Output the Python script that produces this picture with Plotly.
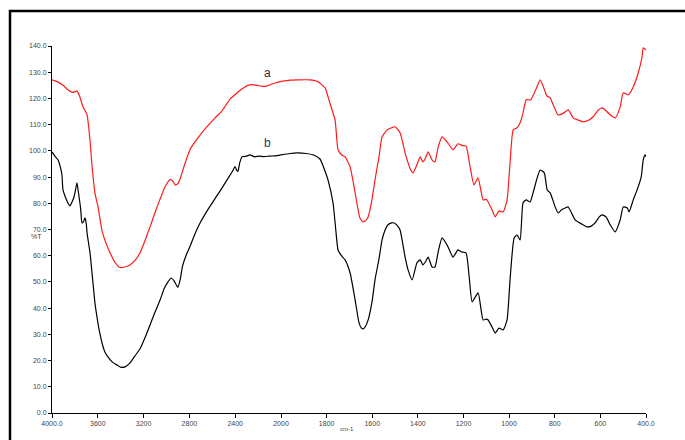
import plotly.graph_objects as go

# wavenumber (cm-1) and %T readings
red_wn = [4000, 3950, 3904, 3860, 3825, 3795, 3782, 3760, 3729, 3694, 3668, 3651, 3625, 3598, 3563, 3530, 3493, 3450, 3406, 3360, 3319, 3270, 3231, 3190, 3144, 3100, 3057, 3010, 2969, 2945, 2925, 2900, 2880, 2840, 2795, 2750, 2707, 2640, 2576, 2520, 2480, 2440, 2402, 2360, 2314, 2290, 2250, 2200, 2160, 2120, 2080, 2040, 2000,
          1960, 1930, 1873, 1840, 1807, 1785, 1763, 1750, 1735, 1719, 1697, 1675, 1654, 1640, 1625, 1618, 1600, 1588, 1570, 1557, 1535, 1515, 1500, 1478, 1456, 1443, 1430, 1421, 1404, 1390, 1378, 1368, 1355, 1338, 1325, 1311, 1294, 1272, 1246, 1224, 1205, 1189, 1171, 1154, 1136, 1114, 1100, 1092, 1075, 1061, 1044, 1026, 1009, 996, 982, 965, 952, 940, 925, 905, 880, 864, 846, 835, 820, 807, 785, 760, 741, 719, 700, 675, 650, 632, 610, 592, 579, 560, 535, 513, 500, 478, 456, 434, 417, 412, 400]
red_t = [127.1, 126.3, 125.0, 123.3, 122.3, 122.6, 122.9, 121.0, 116.8, 113.7, 104.0, 94.5, 84.0, 78.6, 69.5, 65.0, 61.1, 57.5, 55.5, 55.8, 56.5, 58.5, 61.1, 65.5, 71.0, 76.5, 81.5, 86.5, 89.0, 88.5, 87.0, 87.5, 89.5, 95.0, 100.4, 103.5, 106.0, 109.5, 112.6, 115.0, 117.5, 120.0, 121.4, 123.0, 124.4, 125.0, 125.3, 124.9, 124.6, 124.8, 125.5, 126.0, 126.5,
         127.0, 127.1, 127.1, 126.5, 124.0, 118.0, 111.8, 100.4, 98.5, 97.7, 93.9, 84.0, 74.4, 72.9, 73.8, 74.8, 82.0, 88.9, 98.0, 105.3, 108.0, 108.8, 109.2, 106.9, 99.2, 95.4, 92.5, 91.6, 94.7, 97.7, 95.8, 97.0, 99.6, 96.6, 95.8, 101.5, 105.3, 103.4, 100.4, 102.7, 102.0, 101.9, 93.9, 87.0, 89.7, 81.3, 81.5, 80.5, 77.5, 74.8, 77.1, 76.7, 81.3, 95.4, 108.0, 108.8, 110.7, 114.0, 119.5, 119.5, 124.0, 127.1, 123.5, 121.0, 120.2, 117.6, 113.7, 114.5, 115.6, 112.6, 111.8, 111.1, 111.8, 113.0, 115.5, 116.4, 115.6, 114.0, 112.6, 116.8, 122.1, 121.4, 124.4, 129.8, 135.9, 139.3, 138.5]

black_wn = [4000, 3975, 3948, 3925, 3913, 3904, 3880, 3860, 3843, 3825, 3808, 3795, 3782, 3770, 3750, 3738, 3725, 3712, 3700, 3694, 3668, 3642, 3625, 3607, 3585, 3563, 3540, 3511, 3470, 3432, 3400, 3362, 3320, 3280, 3231, 3190, 3144, 3100, 3057, 3020, 2987, 2960, 2935, 2910, 2900, 2880, 2860, 2830, 2795, 2750, 2707, 2640, 2576, 2520, 2463, 2420, 2402, 2385, 2376, 2360, 2341, 2300, 2271, 2230, 2190, 2150, 2100, 2052, 2000,
            1960, 1930, 1890, 1860, 1829, 1810, 1794, 1772, 1760, 1750, 1735, 1719, 1697, 1675, 1658, 1648, 1640, 1630, 1618, 1600, 1588, 1570, 1557, 1545, 1531, 1515, 1504, 1490, 1478, 1456, 1443, 1425, 1404, 1390, 1378, 1368, 1355, 1338, 1325, 1311, 1294, 1272, 1246, 1224, 1210, 1189, 1175, 1162, 1136, 1114, 1100, 1092, 1075, 1061, 1044, 1026, 1009, 996, 978, 965, 952, 945, 939, 925, 908, 895, 877, 864, 846, 833, 820, 798, 785, 770, 754, 741, 711, 680, 658, 640, 623, 605, 592, 575, 557, 535, 513, 500, 482, 474, 456, 439, 421, 412, 404, 400]
black_t = [99.6, 98.0, 96.6, 93.5, 90.8, 85.1, 82.0, 80.0, 79.0, 80.5, 82.4, 85.0, 87.8, 84.4, 78.0, 72.5, 73.0, 74.4, 72.0, 68.7, 61.1, 49.6, 42.0, 36.6, 31.0, 26.7, 23.5, 21.4, 19.3, 18.3, 17.5, 17.6, 19.0, 21.5, 24.5, 28.5, 33.6, 38.5, 43.0, 47.5, 50.0, 51.5, 50.5, 48.5, 48.0, 51.0, 56.0, 60.0, 63.5, 68.5, 72.5, 77.5, 81.8, 85.5, 89.5, 92.5, 94.0, 92.5, 92.2, 95.5, 97.7, 98.0, 98.5, 97.7, 98.0, 97.8, 98.0, 98.1, 98.5,
           99.0, 99.2, 99.0, 98.5, 96.9, 93.0, 88.9, 80.2, 70.0, 62.2, 60.0, 58.4, 53.4, 43.1, 34.4, 32.5, 32.1, 33.0, 35.5, 43.0, 50.8, 59.0, 66.0, 69.5, 71.8, 72.5, 72.5, 71.5, 69.8, 59.5, 54.6, 50.8, 57.3, 58.4, 56.5, 57.5, 59.5, 55.7, 55.7, 61.5, 66.8, 64.1, 59.5, 62.2, 61.5, 61.1, 51.9, 42.4, 45.8, 35.5, 35.8, 35.5, 32.8, 30.5, 32.4, 31.7, 35.5, 50.8, 66.8, 67.9, 66.0, 73.7, 80.2, 81.3, 80.5, 84.0, 89.7, 92.7, 91.6, 85.1, 84.0, 78.6, 76.3, 77.5, 78.2, 78.6, 73.7, 72.0, 71.0, 71.3, 72.5, 74.8, 75.6, 74.8, 71.8, 69.1, 73.7, 78.6, 78.2, 76.7, 81.3, 85.1, 90.1, 96.6, 98.5, 97.7]

x_hi_ticks = [4000, 3600, 3200, 2800, 2400]
x_hi_labels = ["4000.0", "3600", "3200", "2800", "2400"]
x_lo_ticks = [2000, 1800, 1600, 1400, 1200, 1000, 800, 600, 400]
x_lo_labels = ["2000", "1800", "1600", "1400", "1200", "1000", "800", "600", "400.0"]
y_ticks = list(range(0, 141, 10))
y_labels = [f"{v:.1f}" for v in y_ticks]

BREAK = 2000
split = 229 / 594


def part(wn, t, hi):
    pts = [(w, v) for w, v in zip(wn, t) if (w >= BREAK if hi else w <= BREAK)]
    return [p[0] for p in pts], [p[1] for p in pts]


fig = go.Figure()
for wn, t, col in [(red_wn, red_t, "#ff1a1a"), (black_wn, black_t, "#000000")]:
    for hi in (True, False):
        xs, ys = part(wn, t, hi)
        fig.add_trace(go.Scatter(x=xs, y=ys, mode="lines",
                                 xaxis="x" if hi else "x2", yaxis="y",
                                 line=dict(color=col, width=1.2, shape="spline", smoothing=0.5),
                                 showlegend=False, hoverinfo="skip"))

tickfont = dict(family="Liberation Sans, Arial, sans-serif", size=7, color="#444444")
common = dict(showline=True, linecolor="black", linewidth=1, ticks="outside", ticklen=4,
              tickcolor="black", tickwidth=1, showgrid=False, zeroline=False,
              tickfont=tickfont, anchor="y")
fig.update_layout(
    width=685, height=440,
    margin=dict(l=52, r=39, t=46, b=27),
    paper_bgcolor="white", plot_bgcolor="white",
    xaxis=dict(domain=[0, split], range=[4000, BREAK], tickvals=x_hi_ticks, ticktext=x_hi_labels, **common),
    xaxis2=dict(domain=[split, 1], range=[BREAK, 400], tickvals=x_lo_ticks, ticktext=x_lo_labels, **common),
    yaxis=dict(range=[0, 140], tickvals=y_ticks, ticktext=y_labels, showline=True, linecolor="black",
               linewidth=1, ticks="outside", ticklen=3, tickcolor="black", showgrid=False,
               zeroline=False, tickfont=tickfont),
)

fig.add_shape(type="rect", xref="paper", yref="paper",
              x0=(10 - 52) / 594, x1=1.3, y0=-0.3, y1=(413 - 11) / 367,
              line=dict(color="black", width=2.5), fillcolor="rgba(0,0,0,0)", layer="above")

fig.add_annotation(x=2122, y=129.8, xref="x", yref="y", text="a", showarrow=False,
                   font=dict(family="Liberation Sans, Arial", size=12, color="#4a2626"))
fig.add_annotation(x=2115, y=103, xref="x", yref="y", text="b", showarrow=False,
                   font=dict(family="Liberation Sans, Arial", size=12, color="#1d3d5c"))
fig.add_annotation(x=(29 - 52) / 594, y=(413 - 236) / 367, xref="paper", yref="paper", text="%T",
                   showarrow=False, font=dict(family="Liberation Sans, Arial", size=7, color="#444444"))
fig.add_annotation(x=(347 - 52) / 594, y=(413 - 434) / 367, xref="paper", yref="paper", text="cm-1",
                   showarrow=False, font=dict(family="Liberation Sans, Arial", size=6, color="#444444"))

fig.write_html("out.html", config={"displayModeBar": False},
               post_script="document.body.style.margin='0';document.body.style.overflow='hidden';")
